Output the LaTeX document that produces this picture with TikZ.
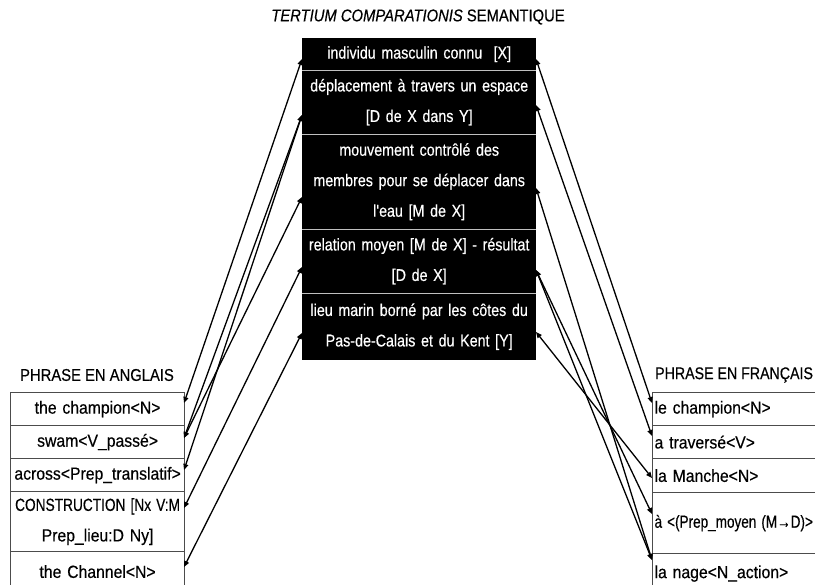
\documentclass[tikz,border=0pt]{standalone}
\usepackage{fontspec}
\setmainfont{Liberation Sans}[FakeStretch=0.86,FakeBold=0.4]
\newfontfamily\cfont{Liberation Sans}[FakeStretch=0.84,FakeBold=0.4]
\newfontfamily\tfont{Liberation Sans}[FakeStretch=0.9,FakeBold=0.4]
\newfontfamily\hfont{Liberation Sans}[FakeStretch=0.87,FakeBold=0.4]
\usetikzlibrary{arrows.meta}
\begin{document}
\begin{tikzpicture}[x=1pt,y=-1pt,
  crow/.style={fill=black,text=white,inner sep=0pt,anchor=north west,minimum width=234pt,text width=232pt,align=center,font=\cfont\fontsize{17}{30.5}\selectfont},
  erow/.style={draw=black!70,line width=1.2pt,inner sep=0pt,anchor=north west,minimum width=174pt,text width=174pt,align=center,font=\tfont\fontsize{17.5}{30.5}\selectfont},
  frow/.style={draw=black!70,line width=1.2pt,inner sep=0pt,anchor=north west,text width=200pt,align=left,font=\tfont\fontsize{17.5}{30.5}\selectfont},
  ttl/.style={font=\hfont\fontsize{17}{18}\selectfont,inner sep=0pt},
  link/.style={line width=1.3pt,draw=black,{Triangle[length=6pt,width=5pt]}-{Triangle[length=6pt,width=5pt]}},
  sep/.style={draw=black!25,line width=1.6pt}]
\useasboundingbox (0,0) rectangle (815,585);
\clip (0,0) rectangle (815,585);
% title
\node[ttl] (title) at (418,17) {\itshape TERTIUM COMPARATIONIS\upshape{} SEMANTIQUE};
% central box
\node[crow,minimum height=32pt] (c1) at (302,38) {individu masculin connu\ \ [X]};
\node[crow,minimum height=64pt] (c2) at (302,70) {déplacement à travers un espace\\{}[D de X dans Y]};
\node[crow,minimum height=95pt] (c3) at (302,134) {mouvement contrôlé des\\ membres pour se déplacer dans\\ l'eau [M de X]};
\node[crow,minimum height=64pt] (c4) at (302,229) {relation moyen [M de X] - résultat\\{}[D de X]};
\node[crow,minimum height=67pt] (c5) at (302,293) {lieu marin borné par les côtes du\\ Pas-de-Calais et du Kent [Y]};
\draw[sep] (c1.south west) -- (c1.south east);
\draw[sep] (c2.south west) -- (c2.south east);
\draw[sep] (c3.south west) -- (c3.south east);
\draw[sep] (c4.south west) -- (c4.south east);
% English table
\node[ttl] (etitle) at (97,375) {PHRASE EN ANGLAIS};
\node[erow,minimum height=33pt] (e1n) at (10,392) {the champion<N>};
\node[erow,minimum height=33pt] (e2n) at (10,425) {swam<V\_passé>};
\node[erow,minimum height=33pt] (e3n) at (10,458) {across<Prep\_translatif>};
\node[erow,minimum height=60pt] (e4n) at (10,491) {\scalebox{0.87}[1]{CONSTRUCTION [Nx V:M}\\ Prep\_lieu:D Ny]};
\node[erow,minimum height=40pt] (e5n) at (10,551) {the Channel<N>};
% French table
\node[ttl,anchor=west] (ftitle) at (655,375) {\scalebox{0.96}[1]{PHRASE EN FRANÇAIS}};
\node[frow,minimum height=33pt] (f1n) at (652,392) {\hspace*{2pt}le champion<N>};
\node[frow,minimum height=33pt] (f2n) at (652,425) {\hspace*{2pt}a traversé<V>};
\node[frow,minimum height=34pt] (f3n) at (652,458) {\hspace*{2pt}la Manche<N>};
\node[frow,minimum height=61pt] (f4n) at (652,492) {\hspace*{2pt}\scalebox{0.86}[1]{à <(Prep\_moyen (M→D)>}};
\node[frow,minimum height=40pt] (f5n) at (652,553) {\hspace*{2pt}la nage<N\_action>};
% connector ends
\coordinate (cl1) at (302,59);  \coordinate (cr1) at (536,59);
\coordinate (cl2) at (302,115); \coordinate (cr2) at (536,105);
\coordinate (cl3) at (302,197); \coordinate (cr3) at (536,188);
\coordinate (cl4) at (302,267); \coordinate (cr4) at (536,270);
\coordinate (cl5) at (302,333); \coordinate (cr5) at (536,332);
\coordinate (e1) at (184,403); \coordinate (f1) at (652,403);
\coordinate (e2) at (184,438); \coordinate (f2) at (652,436);
\coordinate (e3) at (184,470); \coordinate (f3) at (652,478);
\coordinate (e4) at (184,508); \coordinate (f4) at (652,514);
\coordinate (e5) at (184,567); \coordinate (f5) at (652,560);
% English links
\draw[link] (e1) -- (cl1);
\draw[link] (e2) -- (cl2);
\draw[link] (e2) -- (cl3);
\draw[link] (e3) -- (cl2);
\draw[link] (e4) -- (cl4);
\draw[link] (e5) -- (cl5);
% French links
\draw[link] (cr1) -- (f1);
\draw[link] (cr2) -- (f2);
\draw[link] (cr3) -- (f5);
\draw[link] (cr4) -- (f4);
\draw[link] (cr4) -- (f5);
\draw[link] (cr5) -- (f3);
\end{tikzpicture}
\end{document}
